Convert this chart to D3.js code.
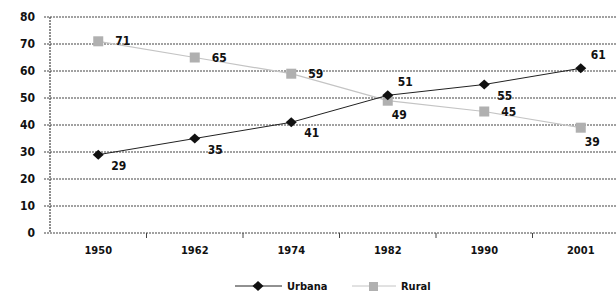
<!DOCTYPE html>
<html lang="en">
<head>
<script src="https://d3js.org/d3.v7.min.js"></script>
<style>
  body { margin: 0; background: #fff; }
  text { font-family: "DejaVu Sans Condensed", "Liberation Sans", sans-serif; font-weight: bold; }
</style>
</head>
<body>
<script>
// data
const years = ["1950", "1962", "1974", "1982", "1990", "2001"];
const urbana = [29, 35, 41, 51, 55, 61];
const rural = [71, 65, 59, 49, 45, 39];
const yTicks = [0, 10, 20, 30, 40, 50, 60, 70, 80];

// where the value label sits relative to its marker
const urbanaPlace = ["br", "br", "br", "ar", "br", "ar"];
const ruralPlace = ["r", "r", "r", "b", "r", "b"];

const W = 616, H = 293;
const margin = {top: 17, right: -13, bottom: 60, left: 50};
const width = W - margin.left - margin.right;
const height = H - margin.top - margin.bottom;

const svg = d3.select("body").append("svg")
    .attr("width", W)
    .attr("height", H);
const g = svg.append("g")
    .attr("transform", "translate(" + margin.left + "," + margin.top + ")");

const x = d3.scaleBand().domain(years).range([0, width]);
const y = d3.scaleLinear().domain([0, 80]).range([height, 0]);

// gridlines
g.selectAll(".grid").data(yTicks).enter().append("line")
    .attr("x1", -6).attr("x2", width)
    .attr("y1", d => y(d)).attr("y2", d => y(d))
    .attr("stroke", "#444").attr("stroke-width", 1.2)
    .attr("stroke-dasharray", "2,1");

// y axis line
g.append("line")
    .attr("x1", 0).attr("x2", 0).attr("y1", 0).attr("y2", height)
    .attr("stroke", "#444").attr("stroke-width", 1.2)
    .attr("stroke-dasharray", "2,1");

// y labels
g.selectAll(".ylab").data(yTicks).enter().append("text")
    .attr("x", -15).attr("y", d => y(d))
    .attr("dy", "0.35em").attr("text-anchor", "end")
    .attr("font-size", 12).attr("fill", "#111")
    .text(d => d);

// x ticks at band boundaries
g.selectAll(".xtick").data(years.slice(1)).enter().append("line")
    .attr("x1", d => x(d)).attr("x2", d => x(d))
    .attr("y1", height).attr("y2", height + 5)
    .attr("stroke", "#444");

g.selectAll(".xlab").data(years).enter().append("text")
    .attr("x", d => x(d) + x.bandwidth() / 2).attr("y", height + 21)
    .attr("text-anchor", "middle")
    .attr("font-size", 11).attr("fill", "#111")
    .text(d => d);

const cx = i => x(years[i]) + x.bandwidth() / 2;
const line = d3.line().x((d, i) => cx(i)).y(d => y(d));

// rural series
g.append("path").datum(rural)
    .attr("d", line).attr("fill", "none")
    .attr("stroke", "#c4c4c4").attr("stroke-width", 1.2);
g.selectAll(".rm").data(rural).enter().append("rect")
    .attr("x", (d, i) => cx(i) - 5).attr("y", d => y(d) - 5)
    .attr("width", 10).attr("height", 10)
    .attr("fill", "#b0b0b0");

// urbana series
g.append("path").datum(urbana)
    .attr("d", line).attr("fill", "none")
    .attr("stroke", "#222").attr("stroke-width", 1);
const diamond = "M0,-5L5.5,0L0,5L-5.5,0Z";
g.selectAll(".um").data(urbana).enter().append("path")
    .attr("d", diamond)
    .attr("transform", (d, i) => "translate(" + cx(i) + "," + y(d) + ")")
    .attr("fill", "#111");

const off = {
  r: [17, 4, "start"],
  br: [13, 15, "start"],
  ar: [10, -9, "start"],
  b: [4, 18, "start"]
};
function labels(vals, place) {
  g.selectAll(null).data(vals).enter().append("text")
      .attr("x", (d, i) => cx(i) + off[place[i]][0])
      .attr("y", (d, i) => y(d) + off[place[i]][1])
      .attr("text-anchor", "start")
      .attr("font-size", 12).attr("fill", "#111")
      .text(d => d);
}
labels(urbana, urbanaPlace);
labels(rural, ruralPlace);

// legend
const lg = svg.append("g").attr("transform", "translate(0,286)");
lg.append("line").attr("x1", 235).attr("x2", 282).attr("y1", 0).attr("y2", 0)
    .attr("stroke", "#222");
lg.append("path").attr("d", diamond).attr("transform", "translate(258,0)").attr("fill", "#111");
lg.append("text").attr("x", 287).attr("y", 4).attr("font-size", 11).attr("fill", "#111").text("Urbana");

lg.append("line").attr("x1", 352).attr("x2", 396).attr("y1", 0).attr("y2", 0)
    .attr("stroke", "#c4c4c4");
lg.append("rect").attr("x", 369).attr("y", -4).attr("width", 9).attr("height", 9).attr("fill", "#b0b0b0");
lg.append("text").attr("x", 401).attr("y", 4).attr("font-size", 11).attr("fill", "#111").text("Rural");
</script>
</body>
</html>
